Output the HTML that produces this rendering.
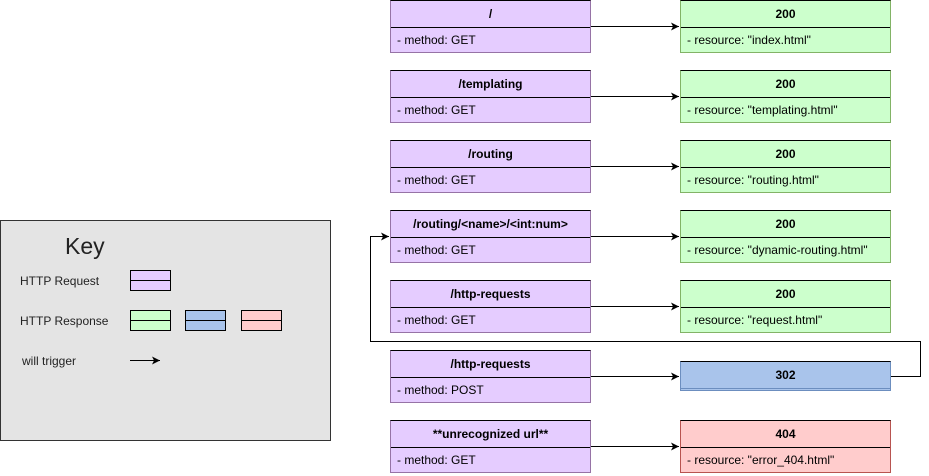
<!DOCTYPE html>
<html><head><meta charset="utf-8"><style>
body{margin:0;width:929px;height:476px;background:#fff;position:relative;overflow:hidden;font-family:"Liberation Sans",Arial,sans-serif;font-size:12px;color:#000}
.b{position:absolute;box-sizing:border-box;width:201px;height:53px;border:1px solid #9673a6;border-top-color:#000}
.b .h{height:26px;line-height:26px;text-align:center;font-weight:bold;border-bottom:1px solid #000}
.b .r{height:25px;line-height:25px;padding-left:6px}
.q{left:390px;background:#e5ccff}
.g{left:680px;width:211px;background:#ccffcc;border-color:#82b366;border-top-color:#000}
.p{left:680px;width:211px;background:#ffcccc;border-color:#b85450;border-top-color:#000}
.key{position:absolute;left:0;top:220px;width:331px;height:221px;box-sizing:border-box;border:1px solid #333;background:#e4e4e4}
.t{position:absolute;color:#222}
.lg{position:absolute;box-sizing:border-box;width:41px;height:21px;border:1px solid #000}
.lg div{height:9px;border-bottom:1px solid #000}
</style></head><body>
<div class="key"></div>
<div class="t" style="left:65px;top:233px;font-size:23px">Key</div>
<div class="t" style="left:20px;top:274px">HTTP Request</div>
<div class="t" style="left:20px;top:314px">HTTP Response</div>
<div class="t" style="left:22px;top:354px">will trigger</div>
<div class="lg" style="left:130px;top:270px;background:#e5ccff"><div></div></div>
<div class="lg" style="left:130px;top:310px;background:#ccffcc"><div></div></div>
<div class="lg" style="left:185px;top:310px;background:#a9c4eb"><div></div></div>
<div class="lg" style="left:241px;top:310px;background:#ffcccc"><div></div></div>

<div class="b q" style="top:0"><div class="h">/</div><div class="r">- method: GET</div></div>
<div class="b q" style="top:70px"><div class="h">/templating</div><div class="r">- method: GET</div></div>
<div class="b q" style="top:140px"><div class="h">/routing</div><div class="r">- method: GET</div></div>
<div class="b q" style="top:210px"><div class="h">/routing/&lt;name&gt;/&lt;int:num&gt;</div><div class="r">- method: GET</div></div>
<div class="b q" style="top:280px"><div class="h">/http-requests</div><div class="r">- method: GET</div></div>
<div class="b q" style="top:350px"><div class="h">/http-requests</div><div class="r">- method: POST</div></div>
<div class="b q" style="top:420px"><div class="h">**unrecognized url**</div><div class="r">- method: GET</div></div>

<div class="b g" style="top:0"><div class="h">200</div><div class="r">- resource: "index.html"</div></div>
<div class="b g" style="top:70px"><div class="h">200</div><div class="r">- resource: "templating.html"</div></div>
<div class="b g" style="top:140px"><div class="h">200</div><div class="r">- resource: "routing.html"</div></div>
<div class="b g" style="top:210px"><div class="h">200</div><div class="r">- resource: "dynamic-routing.html"</div></div>
<div class="b g" style="top:280px"><div class="h">200</div><div class="r">- resource: "request.html"</div></div>
<div class="b" style="left:680px;top:361px;width:211px;height:30px;background:#a9c4eb;border-color:#6c8ebf;border-top-color:#000"><div class="h" style="height:26px;border-bottom:1px solid #6c8ebf">302</div></div>
<div class="b p" style="top:420px"><div class="h">404</div><div class="r">- resource: "error_404.html"</div></div>

<svg width="929" height="476" style="position:absolute;left:0;top:0" fill="none" stroke="#000">
<defs><marker id="a" markerWidth="10" markerHeight="10" refX="8" refY="4.5" orient="auto" markerUnits="userSpaceOnUse"><path d="M0,0.5 L8,4.5 L0,8.5 L2,4.5z" fill="#000" stroke="none"/></marker></defs>
<g marker-end="url(#a)">
<path d="M591 26.5H679"/><path d="M591 96.5H679"/><path d="M591 166.5H679"/><path d="M591 236.5H679"/><path d="M591 306.5H679"/><path d="M591 376.5H679"/><path d="M591 446.5H679"/>
<path d="M891 376.5H920.5V341.5H370.5V236.5H389"/>
<path d="M130 360.5H160"/>
</g></svg>
</body></html>
